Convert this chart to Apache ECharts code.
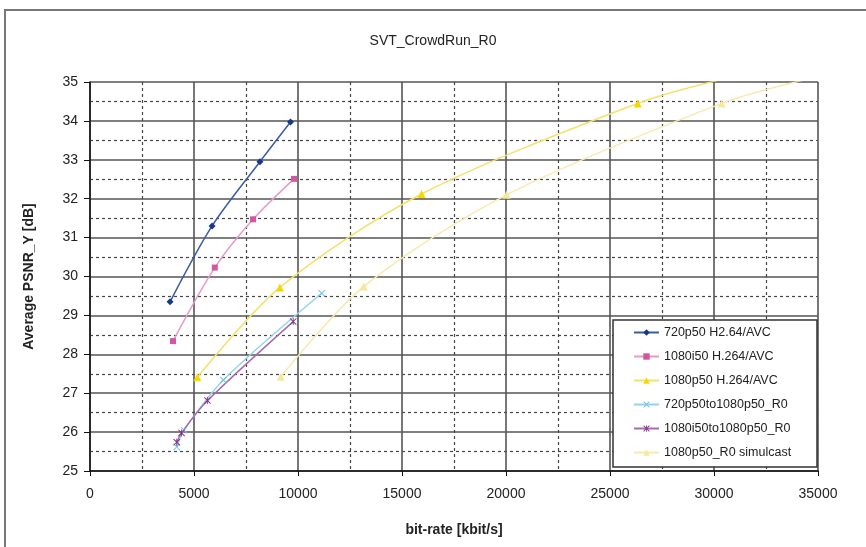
<!DOCTYPE html>
<html>
<head>
<meta charset="UTF-8">
<script src="https://cdn.jsdelivr.net/npm/echarts@6/dist/echarts.min.js"></script>
<title>SVT_CrowdRun_R0</title>
<style>
	html, body { margin: 0; padding: 0; background: #fff; }
	#chart { width: 866px; height: 547px; }
</style>
</head>
<body>
	<div id="chart"></div>
	<script>
		// data: [bit-rate kbit/s, PSNR dB]
		var names = ['720p50 H2.64/AVC', '1080i50 H.264/AVC', '1080p50 H.264/AVC',
			'720p50to1080p50_R0', '1080i50to1080p50_R0', '1080p50_R0 simulcast'];
		var s720p = [[3850, 29.35], [5870, 31.3], [8170, 32.95], [9640, 33.97]];
		var s1080i = [[3990, 28.34], [6000, 30.23], [7840, 31.47], [9810, 32.51]];
		var s1080p = [[5160, 27.41], [9130, 29.72], [15940, 32.12], [26330, 34.45], [30240, 35.05]];
		var s720to1080 = [[4170, 25.62], [4520, 26.05], [6410, 27.34], [11140, 29.57]];
		var s1080ito1080 = [[4170, 25.74], [4400, 25.98], [5650, 26.81], [9770, 28.84]];
		var sSimulcast = [[9170, 27.42], [13160, 29.74], [20030, 32.1], [30370, 34.45], [34300, 35.05]];
		var xTicks = [0, 35000, 5000];
		var yTicks = [25, 35, 1];

		var xMark = 'path://M0,1 L1,0 L5,4 L9,0 L10,1 L6,5 L10,9 L9,10 L5,6 L1,10 L0,9 L4,5 Z';
		var starMark = 'path://M0,1 L1,0 L4.4,3.4 L4.4,0 L5.6,0 L5.6,3.4 L9,0 L10,1 L6,5 L10,9 L9,10 L5.6,6.6 L5.6,10 L4.4,10 L4.4,6.6 L1,10 L0,9 L4,5 Z';

		function line(name, data, color, symbol, size, lineColor) {
			return {
				name: name,
				type: 'line',
				data: data,
				smooth: 0.3,
				symbol: symbol,
				symbolSize: size,
				clip: true,
				lineStyle: { color: lineColor || color, width: 1.5 },
				itemStyle: { color: color },
				emphasis: { disabled: true }
			};
		}

		var chart = echarts.init(document.getElementById('chart'));
		var font = 'Liberation Sans, Arial, sans-serif';
		var option = {
			animation: false,
			textStyle: { fontFamily: font },
			title: {
				text: 'SVT_CrowdRun_R0',
				left: 'center',
				top: 29,
				textStyle: { fontSize: 14, fontWeight: 'normal', color: '#222', fontFamily: font }
			},
			graphic: [
				{ type: 'rect', shape: { x: 5, y: 10, width: 900, height: 600 },
				  style: { fill: 'none', stroke: '#777', lineWidth: 2 }, z: 0 },
				{ type: 'rect', shape: { x: 613, y: 320, width: 204, height: 147 },
				  style: { fill: '#fff', stroke: '#333', lineWidth: 1.5 }, z: 50 }
			],
			legend: {
				orient: 'vertical',
				left: 613,
				top: 320,
				padding: [6, 10, 6, 20],
				itemGap: 11,
				itemWidth: 25,
				itemHeight: 8,
				z: 60,
				textStyle: { fontSize: 12.5, color: '#222', fontFamily: font },
				data: names
			},
			grid: { left: 90, right: 48, top: 82, bottom: 76 },
			xAxis: {
				type: 'value',
				min: xTicks[0], max: xTicks[1], interval: xTicks[2],
				name: 'bit-rate [kbit/s]',
				nameLocation: 'middle',
				nameGap: 52,
				nameTextStyle: { fontSize: 14, fontWeight: 'bold', color: '#222' },
				axisLine: { lineStyle: { color: '#111', width: 1.5 } },
				axisTick: { show: true, length: 5, lineStyle: { color: '#111' } },
				axisLabel: { fontSize: 14, color: '#222', margin: 16, formatter: function (v) { return String(v); } },
				splitLine: { show: true, lineStyle: { color: '#555', width: 1.6 } },
				minorTick: { show: true, splitNumber: 2, length: 0 },
				minorSplitLine: { show: true, lineStyle: { color: '#444', width: 1.2, type: [3, 3] } }
			},
			yAxis: {
				type: 'value',
				min: yTicks[0], max: yTicks[1], interval: yTicks[2],
				name: 'Average PSNR_Y [dB]',
				nameLocation: 'middle',
				nameGap: 54,
				nameTextStyle: { fontSize: 14, fontWeight: 'bold', color: '#222' },
				axisLine: { show: true, lineStyle: { color: '#111', width: 1.5 } },
				axisTick: { show: true, length: 6, lineStyle: { color: '#111' } },
				axisLabel: { fontSize: 14, color: '#222', margin: 12 },
				splitLine: { show: true, lineStyle: { color: '#555', width: 1.6 } },
				minorTick: { show: true, splitNumber: 2, length: 0 },
				minorSplitLine: { show: true, lineStyle: { color: '#444', width: 1.2, type: [3, 3] } }
			},
			series: [
				line(names[0], s720p, '#17378a', 'diamond', 7, '#3a5aa6'),
				line(names[1], s1080i, '#d455a0', 'rect', 6, '#e59ac8'),
				line(names[2], s1080p, '#f4d800', 'triangle', 8, '#f5e06a'),
				line(names[3], s720to1080, '#6cc6e6', xMark, 7, '#93d4ea'),
				line(names[4], s1080ito1080, '#86328c', starMark, 7, '#a76aae'),
				line(names[5], sSimulcast, '#f6e79a', 'triangle', 8, '#f7eab0')
			]
		};
		chart.setOption(option);
	</script>
</body>
</html>
